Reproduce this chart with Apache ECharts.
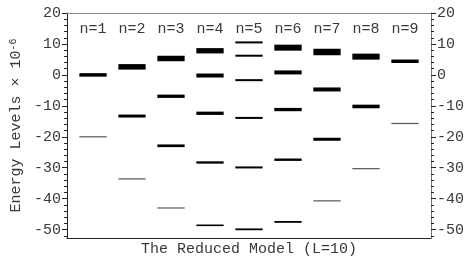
<!DOCTYPE html>
<html>
<head>
<meta charset="utf-8">
<script src="https://cdn.jsdelivr.net/npm/echarts@6/dist/echarts.min.js"></script>
<style>
  html, body { margin: 0; padding: 0; background: #fff; }
  #chart { width: 467px; height: 262px; }
</style>
</head>
<body>
<div id="chart"></div>
<script>
// quantum number n for each column
const levelsN = [1, 2, 3, 4, 5, 6, 7, 8, 9]
// energy levels (x 10^-6) for each n, top to bottom
const energies = [
  [0.0, -20.0],
  [2.6, -13.3, -33.6],
  [5.3, -6.9, -22.9, -43.0],
  [7.8, -0.2, -12.4, -28.3, -48.6],
  [10.5, 6.2, -1.7, -13.9, -29.9, -49.9],
  [8.8, 0.8, -11.2, -27.4, -47.5],
  [7.4, -4.7, -20.8, -40.7],
  [5.9, -10.2, -30.3],
  [4.4, -15.7]
]
// weight of each level (drawn as line thickness)
const weights = [
  [3.5, 1.2],
  [5.5, 3, 1.2],
  [5.5, 3.3, 2.7, 1.2],
  [5.3, 4, 3.3, 2.3, 1.6],
  [2, 2, 2, 2, 2, 1.8],
  [6, 4, 3.3, 2.4, 1.8],
  [6.5, 4, 3, 1.2],
  [6, 3.6, 1.2],
  [3.5, 1.2]
]
// y tick labels
const majorTicks = [-50, -40, -30, -20, -10, 0, 10, 20]

const FONT = '"Liberation Mono", "DejaVu Sans Mono", monospace'
const TEXT = '#3a3a3a'
const HALF = 0.35

const minorTicks = []
for (let v = -52; v <= 20; v += 2) minorTicks.push(v)

const levelData = []
levelsN.forEach((n, i) => {
  energies[i].forEach((e, j) => levelData.push([n, e, weights[i][j]]))
})

const chart = echarts.init(document.getElementById('chart'))

const yBase = {
  type: 'value',
  min: -52.7,
  max: 20,
  splitLine: { show: false }
}

chart.setOption({
  animation: false,
  grid: { left: 67, right: 30, top: 13, bottom: 23 },
  xAxis: [
    {
      type: 'value', min: 1 / 3, max: 29 / 3, position: 'bottom',
      axisLine: { show: true, onZero: false, lineStyle: { color: '#222', width: 1 } },
      axisTick: { show: false },
      axisLabel: { show: false },
      splitLine: { show: false },
      name: 'The Reduced Model (L=10)',
      nameLocation: 'middle',
      nameGap: 4,
      nameTextStyle: { fontFamily: FONT, fontSize: 15, color: TEXT }
    },
    {
      type: 'value', min: 1 / 3, max: 29 / 3, position: 'top',
      axisLine: { show: true, onZero: false, lineStyle: { color: '#888', width: 1 } },
      axisTick: { show: false },
      axisLabel: {
        show: true, inside: true, margin: 9,
        customValues: levelsN,
        formatter: v => 'n=' + v,
        fontFamily: FONT, fontSize: 15, color: TEXT
      },
      splitLine: { show: false }
    }
  ],
  yAxis: [
    Object.assign({}, yBase, {
      position: 'left',
      axisLine: { show: true, onZero: false, lineStyle: { color: '#222', width: 1 } },
      axisTick: { show: true, length: 5, customValues: majorTicks, lineStyle: { color: '#222' } },
      axisLabel: { customValues: majorTicks, margin: 6, fontFamily: FONT, fontSize: 15, color: TEXT },
      name: '{a|Energy Levels × 10}{b|-6}',
      nameLocation: 'middle',
      nameGap: 41,
      nameTextStyle: {
        fontFamily: FONT, fontSize: 15, color: TEXT,
        rich: {
          a: { fontFamily: FONT, fontSize: 15, color: TEXT },
          b: { fontFamily: FONT, fontSize: 10, color: TEXT, verticalAlign: 'top' }
        }
      }
    }),
    Object.assign({}, yBase, {
      position: 'right',
      axisLine: { show: true, onZero: false, lineStyle: { color: '#777', width: 1 } },
      axisTick: { show: true, length: 5, customValues: majorTicks, lineStyle: { color: '#222' } },
      axisLabel: { customValues: majorTicks, margin: 6, fontFamily: FONT, fontSize: 15, color: TEXT }
    }),
    Object.assign({}, yBase, {
      position: 'left',
      axisLine: { show: false, onZero: false },
      axisTick: { show: true, length: 3, customValues: minorTicks, lineStyle: { color: '#222' } },
      axisLabel: { show: false }
    }),
    Object.assign({}, yBase, {
      position: 'right',
      axisLine: { show: false, onZero: false },
      axisTick: { show: true, length: 3, customValues: minorTicks, lineStyle: { color: '#222' } },
      axisLabel: { show: false }
    })
  ],
  series: [
    {
      type: 'custom',
      xAxisIndex: 0,
      yAxisIndex: 0,
      data: levelData,
      renderItem: (params, api) => {
        const n = api.value(0)
        const e = api.value(1)
        const w = api.value(2)
        const p1 = api.coord([n - HALF, e])
        const p2 = api.coord([n + HALF, e])
        return {
          type: 'line',
          shape: { x1: p1[0], y1: p1[1], x2: p2[0], y2: p2[1] },
          style: { stroke: w < 1.5 ? '#555' : '#000', lineWidth: w }
        }
      }
    }
  ]
})
</script>
</body>
</html>
